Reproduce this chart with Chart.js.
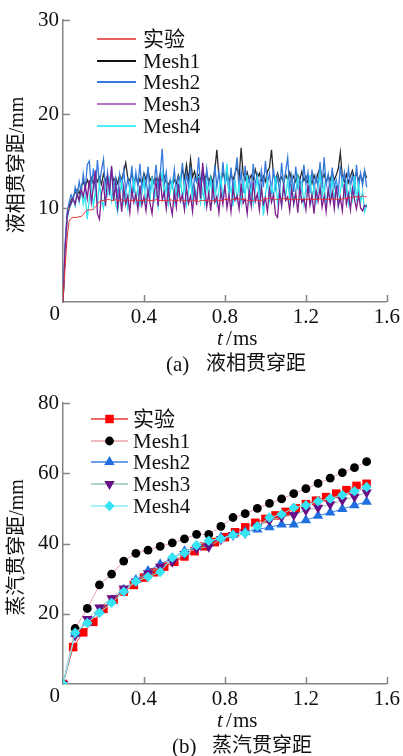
<!DOCTYPE html>
<html>
<head>
<meta charset="utf-8">
<script src="https://cdn.jsdelivr.net/npm/chart.js@4.4.0/dist/chart.umd.min.js"></script>
<style>
    body { margin: 0; background: #fff; }
    .panel { position: relative; width: 403px; }
</style>
</head>
<body>
<div class="panel" style="height:380px"><canvas id="liquidChart"></canvas></div>
<div class="panel" style="height:376px"><canvas id="vaporChart"></canvas></div>

<script>
// ---- (a) 液相贯穿距: sampled every 0.01 ms from 0 to 1.5 ms ----
const tLiquid = [];
for (let i = 0; i <= 150; i++) tLiquid.push(+(i * 0.01).toFixed(2));

const liquidExp = [
    0, 3.5, 6.8, 8.6, 8.9, 9.0, 9.0, 9.0, 9.1, 9.1,
    9.3, 9.6, 9.8, 9.8, 9.8, 9.9, 10.1, 10.4, 10.7, 10.8,
    10.8, 10.8, 10.9, 10.9, 10.8, 10.8, 10.9, 10.8, 10.8, 10.9,
    10.8, 10.8, 10.9, 10.8, 10.8, 10.8, 10.9, 10.8, 10.8, 10.8,
    10.8, 10.9, 10.8, 10.8, 10.8, 10.8, 10.9, 10.8, 10.8, 10.8,
    10.8, 10.8, 10.8, 10.9, 10.8, 10.8, 10.8, 10.8, 10.9, 10.8,
    10.8, 10.8, 10.7, 10.7, 10.8, 10.8, 10.8, 10.7, 10.8, 10.8,
    10.8, 10.8, 10.7, 10.8, 10.8, 10.8, 10.9, 10.8, 10.8, 10.8,
    10.9, 10.9, 10.9, 10.8, 10.9, 10.9, 10.9, 11.0, 10.9, 10.9,
    10.9, 10.8, 10.8, 10.8, 10.8, 10.9, 10.8, 10.8, 10.8, 10.9,
    11.0, 11.0, 11.0, 11.1, 11.0, 10.9, 10.9, 10.9, 11.0, 11.0,
    11.0, 10.9, 10.9, 10.9, 10.9, 11.0, 10.9, 10.9, 10.9, 10.9,
    10.9, 10.9, 11.0, 10.9, 10.9, 10.9, 10.9, 11.0, 10.9, 10.9,
    10.9, 10.9, 10.9, 11.0, 11.0, 10.9, 10.9, 10.9, 11.0, 11.0,
    11.0, 11.0, 11.1, 11.1, 11.2, 11.2, 11.2, 11.2, 11.3, 11.2, 11.2
];
const liquidMesh1 = [
    0, 5.0, 9.0, 10.2, 10.8, 11.2, 11.6, 12.0, 11.5, 12.3,
    12.8, 12.2, 13.0, 12.4, 13.2, 12.6, 13.5, 12.8, 13.3, 12.5,
    13.6, 12.9, 13.4, 12.7, 13.8, 12.9, 13.2, 12.6, 13.5, 13.0,
    13.9, 14.8, 13.2, 12.9, 13.6, 12.7, 13.4, 12.5, 13.1, 12.6,
    13.7, 13.0, 14.0, 12.9, 13.3, 12.6, 13.2, 12.8, 13.6, 12.9,
    13.4, 12.7, 12.5, 12.9, 12.4, 13.0, 12.6, 13.5, 12.8, 14.2,
    13.1, 14.6, 12.9, 15.2, 13.3, 13.9, 12.8, 13.5, 12.9, 14.1,
    13.0, 13.6, 12.8, 13.4, 12.7, 14.0, 16.2, 13.4, 12.9, 13.8,
    13.1, 13.9, 12.8, 13.5, 13.0, 13.7, 14.4, 13.2, 16.4, 13.6,
    13.0, 13.8, 12.9, 13.5, 13.0, 14.1, 13.2, 13.7, 12.9, 13.4,
    12.8, 13.9, 14.3, 16.2, 13.5, 13.0, 13.7, 12.9, 13.3, 12.7,
    13.6, 13.0, 13.8, 12.9, 13.4, 12.8, 13.5, 13.0, 13.9, 12.9,
    13.4, 12.7, 13.2, 12.6, 13.5, 12.8, 13.7, 14.3, 13.1, 13.6,
    12.8, 13.4, 12.9, 13.8, 13.0, 13.5, 14.2, 15.9, 13.3, 12.8,
    13.6, 12.7, 13.4, 14.0, 13.1, 13.8, 12.9, 13.5, 12.8, 13.9, 13.2
];
const liquidMesh2 = [
    0, 6.0, 9.5, 10.6, 11.4, 10.8, 12.2, 11.3, 12.8, 11.6,
    13.6, 12.0, 14.6, 15.0, 12.2, 14.2, 11.8, 15.1, 12.5, 14.0,
    15.2, 11.9, 13.8, 11.4, 14.3, 12.1, 13.2, 11.0, 13.6, 12.3,
    14.0, 11.8, 13.1, 12.0, 14.5, 11.6, 13.8, 12.4, 14.7, 11.9,
    13.4, 12.2, 14.4, 11.5, 13.0, 12.6, 14.6, 12.0, 13.5, 16.3,
    12.4, 13.8, 11.3, 13.0, 12.2, 14.1, 11.7, 13.3, 12.5, 14.8,
    11.9, 13.6, 12.3, 14.4, 11.6, 13.2, 12.8, 15.4, 12.0, 13.7,
    11.8, 14.2, 12.4, 13.1, 11.5, 14.6, 12.2, 13.8, 11.9, 14.9,
    12.5, 13.4, 11.7, 14.3, 12.1, 13.6, 15.4, 12.0, 13.9, 11.6,
    14.5, 12.3, 13.2, 11.8, 14.7, 12.4, 13.5, 11.9, 14.0, 12.2,
    15.0, 12.6, 13.7, 11.8, 14.2, 12.1, 13.4, 11.6, 14.8, 12.3,
    13.9, 15.4, 12.0, 13.5, 11.7, 14.4, 12.2, 13.1, 11.9, 14.6,
    12.5, 13.8, 11.6, 14.1, 12.0, 13.4, 12.3, 14.9, 12.1, 15.4,
    12.4, 13.6, 11.8, 14.3, 12.2, 13.0, 11.7, 14.5, 12.6, 13.8,
    11.9, 14.2, 12.3, 13.5, 11.8, 14.6, 12.1, 13.7, 12.4, 14.0, 12.2
];
const liquidMesh3 = [
    0, 5.5, 9.0, 10.0, 10.5, 11.0, 10.4, 11.5, 10.8, 12.0,
    11.2, 12.4, 11.0, 13.0, 10.6, 12.2, 14.0, 9.4, 8.8, 11.5,
    12.6, 10.2, 13.2, 11.8, 14.5, 10.8, 12.5, 10.0, 11.8, 9.6,
    12.2, 10.4, 11.3, 9.5, 12.0, 10.6, 11.5, 9.8, 12.4, 10.3,
    11.2, 9.7, 11.9, 10.5, 9.4, 11.6, 12.8, 10.2, 13.4, 10.9,
    11.7, 9.9, 12.1, 10.4, 9.3, 11.8, 10.1, 12.6, 10.7, 11.4,
    9.8, 12.2, 10.5, 11.3, 9.6, 12.0, 10.3, 13.2, 11.0, 14.8,
    12.4, 10.1, 11.6, 9.7, 12.3, 10.6, 11.2, 9.5, 11.8, 10.4,
    12.5, 10.0, 11.4, 9.6, 12.1, 10.8, 11.3, 9.9, 12.6, 10.5,
    11.0, 9.4, 11.9, 10.2, 12.8, 10.7, 11.5, 9.8, 12.2, 10.4,
    11.1, 9.6, 12.0, 10.6, 11.4, 9.3, 9.0, 11.7, 10.2, 12.4,
    10.8, 11.2, 9.7, 12.1, 10.4, 11.6, 9.5, 12.3, 10.6, 11.0,
    9.8, 12.5, 10.3, 11.4, 9.4, 11.9, 10.7, 12.2, 10.1, 11.3,
    9.6, 12.0, 10.5, 11.7, 9.9, 12.4, 10.2, 11.1, 9.7, 12.6,
    10.4, 11.5, 9.8, 12.1, 10.9, 9.9, 11.4, 10.0, 9.7, 10.3, 10.1
];
const liquidMesh4 = [
    0, 5.0, 8.8, 9.8, 10.4, 11.0, 10.2, 11.6, 10.6, 12.0,
    10.4, 11.3, 8.8, 11.0, 12.4, 10.2, 11.8, 10.5, 12.6, 11.0,
    10.0, 12.2, 11.4, 13.0, 10.8, 12.3, 10.4, 9.6, 11.5, 12.8,
    10.6, 11.9, 10.0, 12.4, 11.2, 13.1, 10.7, 12.0, 10.3, 11.6,
    12.9, 10.5, 12.2, 11.0, 13.3, 10.8, 11.9, 10.2, 12.6, 13.8,
    11.1, 12.4, 10.4, 11.8, 12.9, 10.6, 12.1, 11.3, 13.2, 10.9,
    12.5, 10.3, 11.7, 13.0, 10.8, 12.3, 11.1, 13.4, 10.6, 12.0,
    10.4, 12.7, 11.2, 13.1, 10.9, 12.4, 10.5, 11.8, 13.3, 11.0,
    12.6, 14.7, 11.4, 12.2, 10.2, 13.0, 10.9, 12.5, 10.6, 12.8,
    11.3, 13.5, 10.7, 12.1, 10.4, 11.9, 13.2, 11.0, 12.6, 9.2,
    11.5, 12.9, 10.8, 12.3, 11.1, 13.4, 10.6, 12.0, 10.3, 12.7,
    11.2, 13.0, 10.9, 12.4, 10.5, 11.8, 13.3, 11.0, 12.6, 10.4,
    12.1, 11.4, 13.5, 10.8, 12.3, 10.6, 11.9, 13.7, 11.2, 12.5,
    10.3, 12.0, 11.1, 13.2, 10.7, 12.4, 10.2, 11.8, 13.0, 11.3,
    12.6, 10.5, 12.2, 10.9, 13.4, 11.0, 12.5, 10.6, 11.7, 9.6, 10.4
];
const xTickLabels = [0.4, 0.8, 1.2, 1.6];

// ---- (b) 蒸汽贯穿距 ----
const tVaporExp = [0, 0.05, 0.1, 0.15, 0.2, 0.25, 0.3, 0.35, 0.4, 0.45, 0.5, 0.55, 0.6, 0.65, 0.7, 0.75,
    0.8, 0.85, 0.9, 0.95, 1.0, 1.05, 1.1, 1.15, 1.2, 1.25, 1.3, 1.35, 1.4, 1.45, 1.5];
const vaporExp = [0, 10.5, 14.7, 17.7, 21.4, 24.0, 26.3, 28.2, 30.3, 31.8, 33.4, 34.8, 36.3, 37.8, 39.2, 40.4,
    41.8, 43.2, 44.6, 45.9, 47.0, 48.0, 49.0, 50.0, 51.2, 52.2, 53.2, 54.2, 55.2, 56.4, 57.0];
const tVaporSim = [0, 0.06, 0.12, 0.18, 0.24, 0.3, 0.36, 0.42, 0.48, 0.54, 0.6, 0.66, 0.72, 0.78,
    0.84, 0.9, 0.96, 1.02, 1.08, 1.14, 1.2, 1.26, 1.32, 1.38, 1.44, 1.5];
const vaporMesh1 = [0, 15.8, 21.5, 28.2, 31.3, 35.0, 37.2, 38.1, 39.2, 40.2, 41.3, 42.6, 42.6, 44.9,
    47.4, 48.5, 50.0, 51.4, 52.7, 54.2, 55.6, 57.1, 58.6, 60.2, 61.6, 63.3];
const vaporMesh2 = [0, 14.2, 17.5, 20.8, 23.8, 26.8, 29.6, 32.2, 34.1, 35.8, 37.8, 39.0, 40.0, 41.7,
    42.5, 43.3, 44.0, 44.6, 45.4, 45.4, 46.6, 47.9, 48.8, 49.8, 50.9, 51.9];
const vaporMesh3 = [0, 13.8, 18.5, 21.8, 24.4, 27.2, 29.2, 31.5, 33.4, 34.8, 37.0, 38.6, 39.1, 41.2,
    42.4, 43.0, 44.9, 46.6, 47.6, 48.1, 49.5, 50.2, 51.2, 52.3, 53.3, 54.5];
const vaporMesh4 = [0, 14.6, 17.4, 20.3, 23.1, 26.3, 29.2, 30.5, 31.9, 36.0, 37.3, 39.5, 40.8, 41.4,
    42.4, 42.9, 44.9, 47.4, 48.3, 50.2, 50.9, 52.0, 52.8, 53.8, 54.9, 56.1];

const AXIS_COLOR = '#858585';
const SERIF = "'Liberation Serif', 'Times New Roman', serif";
const MIXED = "'Liberation Serif', 'Noto Sans CJK SC', serif";

function pairs(xs, ys) {
    return ys.map((y, i) => ({ x: xs[i], y: y }));
}

// small marker painter shared by the legend
function drawMarker(ctx, style, r, x, y) {
    ctx.beginPath();
    if (style === 'circle') {
        ctx.arc(x, y, r, 0, Math.PI * 2);
    } else if (style === 'rect') {
        const s = r * Math.SQRT1_2;
        ctx.rect(x - s, y - s, 2 * s, 2 * s);
    } else if (style === 'rectRot') {
        ctx.moveTo(x, y - r); ctx.lineTo(x + r, y); ctx.lineTo(x, y + r); ctx.lineTo(x - r, y);
        ctx.closePath();
    } else if (style === 'triangle') {
        const h = r * 0.866;
        ctx.moveTo(x, y - r); ctx.lineTo(x + h, y + r / 2); ctx.lineTo(x - h, y + r / 2);
        ctx.closePath();
    } else if (style === 'triangleDown') {
        const h = r * 0.866;
        ctx.moveTo(x, y + r); ctx.lineTo(x + h, y - r / 2); ctx.lineTo(x - h, y - r / 2);
        ctx.closePath();
    }
    ctx.fill();
}

// legend drawn inside the plot: line sample + marker + label
const sideLegend = {
    id: 'sideLegend',
    afterDraw(chart, args, opts) {
        const ctx = chart.ctx;
        ctx.save();
        chart.data.datasets.forEach((ds, i) => {
            const y = opts.rows[i];
            ctx.strokeStyle = ds.legendColor || ds.borderColor;
            ctx.lineWidth = opts.lineWidth;
            ctx.beginPath();
            ctx.moveTo(opts.x0, y);
            ctx.lineTo(opts.x1, y);
            ctx.stroke();
            if (ds.pointRadius > 0) {
                ctx.fillStyle = ds.pointBackgroundColor;
                const style = ds.pointRotation === 180 ? 'triangleDown' : ds.pointStyle;
                drawMarker(ctx, style, ds.pointRadius, (opts.x0 + opts.x1) / 2, y);
            }
            ctx.fillStyle = '#111';
            ctx.font = '21px ' + MIXED;
            ctx.textAlign = 'left';
            ctx.textBaseline = 'middle';
            ctx.fillText(ds.label, opts.textX, y + 1);
        });
        ctx.restore();
    }
};

// inward tick marks, origin label, axis titles and caption
const axisDecor = {
    id: 'axisDecor',
    afterDraw(chart, args, opts) {
        const { ctx, chartArea } = chart;
        const xs = chart.scales.x, ys = chart.scales.y;
        ctx.save();
        ctx.strokeStyle = AXIS_COLOR;
        ctx.lineWidth = 1.5;
        ctx.beginPath();
        xs.ticks.forEach(t => {
            if (t.value === 0) return;
            const px = Math.round(xs.getPixelForValue(t.value)) + 0.5;
            ctx.moveTo(px, chartArea.bottom);
            ctx.lineTo(px, chartArea.bottom - 7);
        });
        ys.ticks.forEach(t => {
            if (t.value === 0) return;
            const py = Math.round(ys.getPixelForValue(t.value)) + 0.5;
            ctx.moveTo(chartArea.left, py);
            ctx.lineTo(chartArea.left + 7, py);
        });
        ctx.stroke();

        ctx.fillStyle = '#111';
        ctx.font = '21px ' + SERIF;
        ctx.textAlign = 'right';
        ctx.textBaseline = 'middle';
        ctx.fillText('0', chartArea.left - 3, chartArea.bottom + 12);

        // x title: italic t / ms
        const xc = xs.getPixelForValue(0.8);
        const ty = chartArea.bottom + 37;
        ctx.textAlign = 'left';
        ctx.font = 'italic 21px ' + SERIF;
        ctx.fillText('t', xc - 8, ty);
        ctx.font = '21px ' + SERIF;
        ctx.fillText('/', xc + 1, ty);
        ctx.fillText('ms', xc + 8, ty);

        // caption under the axis
        const cy = chartArea.bottom + opts.captionOffset;
        ctx.font = '21px ' + SERIF;
        ctx.fillText(opts.tag, opts.tagX, cy);
        ctx.font = '20px ' + MIXED;
        ctx.fillText(opts.caption, opts.tagX + 40, cy);

        // y title, rotated
        ctx.translate(18, (chartArea.top + chartArea.bottom) / 2 + 4);
        ctx.rotate(-Math.PI / 2);
        ctx.textAlign = 'center';
        ctx.font = '20px ' + MIXED;
        ctx.fillText(opts.yTitle, 0, 0);
        ctx.restore();
    }
};

function axes(yMax, yStep, xHeight) {
    return {
        x: {
            type: 'linear',
            min: 0,
            max: 1.6,
            grid: { display: false, drawTicks: false },
            border: { display: true, color: AXIS_COLOR, width: 1.5 },
            ticks: {
                stepSize: 0.4,
                padding: 3,
                color: '#111',
                font: { family: SERIF, size: 21 },
                callback: v => xTickLabels.some(t => Math.abs(t - v) < 1e-6) ? v.toFixed(1) : ''
            },
            afterFit: scale => { scale.height = xHeight; }
        },
        y: {
            min: 0,
            max: yMax,
            grid: { display: false, drawTicks: false },
            border: { display: true, color: AXIS_COLOR, width: 1.5 },
            ticks: {
                stepSize: yStep,
                padding: 4,
                color: '#111',
                font: { family: SERIF, size: 21 },
                callback: v => v === 0 ? '' : v
            },
            afterFit: scale => { scale.width = 63; }
        }
    };
}

function lineSet(label, xs, ys, color, extra) {
    return Object.assign({
        label: label,
        data: pairs(xs, ys),
        borderColor: color,
        borderWidth: 1.3,
        pointRadius: 0,
        tension: 0,
        fill: false
    }, extra || {});
}

new Chart(document.getElementById('liquidChart'), {
    type: 'line',
    data: {
        datasets: [
            lineSet('实验', tLiquid, liquidExp, '#e23232', { borderWidth: 1, order: 0, legendColor: '#e86060' }),
            lineSet('Mesh1', tLiquid, liquidMesh1, '#2a2a2a', { order: 4, legendColor: '#111' }),
            lineSet('Mesh2', tLiquid, liquidMesh2, '#3479dc', { order: 3 }),
            lineSet('Mesh3', tLiquid, liquidMesh3, '#7d1d8f', { order: 1, legendColor: '#b274c4' }),
            lineSet('Mesh4', tLiquid, liquidMesh4, '#2fe3f0', { order: 2, legendColor: '#50eef5' })
        ]
    },
    options: {
        responsive: true,
        maintainAspectRatio: false,
        animation: false,
        layout: { padding: { top: 20, right: 16, left: 0, bottom: 0 } },
        scales: axes(30, 10, 78),
        plugins: {
            legend: { display: false },
            tooltip: { enabled: false },
            sideLegend: { rows: [39, 61, 82, 104, 126], x0: 97, x1: 136, textX: 143, lineWidth: 2 },
            axisDecor: { yTitle: '液相贯穿距/mm', tag: '(a)', caption: '液相贯穿距', tagX: 166, captionOffset: 63 }
        }
    },
    plugins: [sideLegend, axisDecor]
});

function markerSet(label, xs, ys, lineColor, markColor, style, radius, order, rotation) {
    return {
        label: label,
        data: pairs(xs, ys),
        borderColor: lineColor,
        borderWidth: 1,
        pointStyle: style,
        pointRotation: rotation || 0,
        pointRadius: radius,
        pointBackgroundColor: markColor,
        pointBorderColor: markColor,
        pointBorderWidth: 0,
        tension: 0,
        fill: false,
        order: order
    };
}

new Chart(document.getElementById('vaporChart'), {
    type: 'line',
    data: {
        datasets: [
            markerSet('实验', tVaporExp, vaporExp, '#e53a3a', '#ff0000', 'rect', 6, 3),
            markerSet('Mesh1', tVaporSim, vaporMesh1, '#e8a2aa', '#000000', 'circle', 4.4, 4),
            markerSet('Mesh2', tVaporSim, vaporMesh2, '#3a80e2', '#1f6fe0', 'triangle', 6, 2),
            markerSet('Mesh3', tVaporSim, vaporMesh3, '#98c6b0', '#6a0d86', 'triangle', 6, 1, 180),
            markerSet('Mesh4', tVaporSim, vaporMesh4, '#86eef4', '#36e4f4', 'rectRot', 5.2, 0)
        ]
    },
    options: {
        responsive: true,
        maintainAspectRatio: false,
        animation: false,
        layout: { padding: { top: 23, right: 15, left: 0, bottom: 0 } },
        scales: axes(80, 20, 72),
        plugins: {
            legend: { display: false },
            tooltip: { enabled: false },
            sideLegend: { rows: [39, 61, 82, 104, 126], x0: 91, x1: 128, textX: 133, lineWidth: 1.5 },
            axisDecor: { yTitle: '蒸汽贯穿距/mm', tag: '(b)', caption: '蒸汽贯穿距', tagX: 172, captionOffset: 63 }
        }
    },
    plugins: [sideLegend, axisDecor]
});
</script>
</body>
</html>
